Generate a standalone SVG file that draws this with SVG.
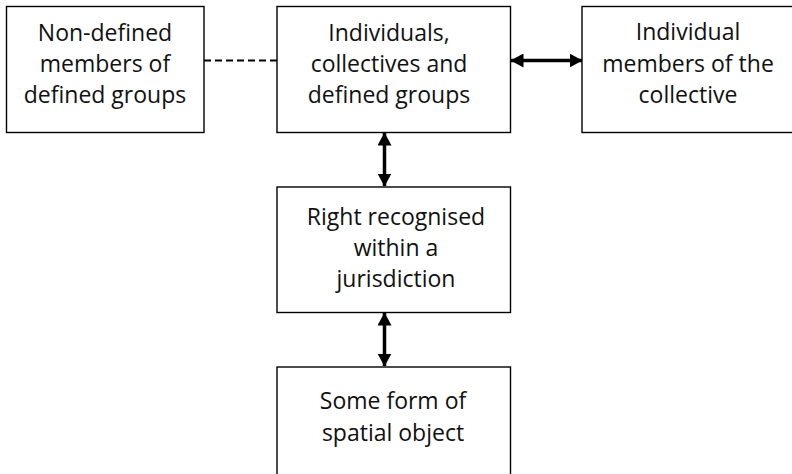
<svg xmlns="http://www.w3.org/2000/svg" width="792" height="474" viewBox="0 0 792 474">
<style>
.box{fill:#fff;stroke:#000;stroke-width:1.4}
.t{font-family:"Open Sans","Noto Sans","Liberation Sans",sans-serif;font-size:23px;fill:#111;text-anchor:middle}
.arr{stroke:#000;stroke-width:3.5;fill:none;marker-start:url(#ah);marker-end:url(#ah)}
</style>
<defs>
<marker id="ah" viewBox="0 0 13 14" refX="12.5" refY="7" markerWidth="13" markerHeight="14" markerUnits="userSpaceOnUse" orient="auto-start-reverse">
<path d="M0,0 L13,7 L0,14 Z" fill="#000"/>
</marker>
</defs>
<g id="connectors">
<line x1="204" y1="60.5" x2="277" y2="60.5" stroke="#000" stroke-width="2" stroke-dasharray="7,4"/>
<line class="arr" x1="511" y1="60.5" x2="582" y2="60.5"/>
<line class="arr" x1="384.5" y1="133" x2="384.5" y2="186"/>
<line class="arr" x1="384.5" y1="313" x2="384.5" y2="366"/>
</g>
<g id="n1">
<rect class="box" x="6.5" y="6.5" width="197.5" height="126"/>
<text class="t" x="105" y="41">Non-defined</text>
<text class="t" x="105" y="72">members of</text>
<text class="t" x="105" y="103">defined groups</text>
</g>
<g id="n2">
<rect class="box" x="277" y="6.5" width="233.5" height="126"/>
<text class="t" x="389" y="41">Individuals,</text>
<text class="t" x="389" y="72">collectives and</text>
<text class="t" x="389" y="103">defined groups</text>
</g>
<g id="n3">
<rect class="box" x="582" y="6.5" width="220" height="126"/>
<text class="t" x="688" y="40">Individual</text>
<text class="t" x="688" y="72">members of the</text>
<text class="t" x="688" y="103">collective</text>
</g>
<g id="n4">
<rect class="box" x="277" y="187" width="233.5" height="125.5"/>
<text class="t" x="396" y="225">Right recognised</text>
<text class="t" x="396" y="256">within a</text>
<text class="t" x="396" y="287">jurisdiction</text>
</g>
<g id="n5">
<rect class="box" x="277" y="367" width="233.5" height="120"/>
<text class="t" x="393" y="409">Some form of</text>
<text class="t" x="393" y="441">spatial object</text>
</g>
</svg>
